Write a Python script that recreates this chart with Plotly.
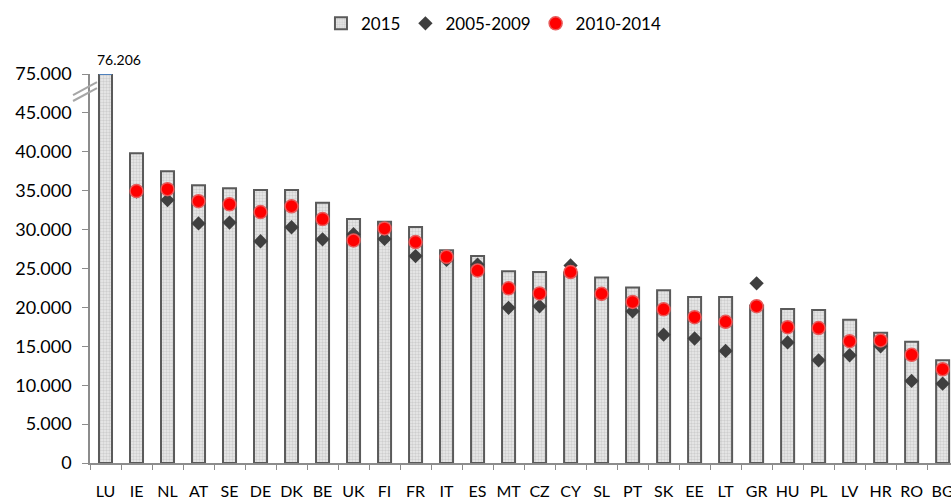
import plotly.graph_objects as go

countries = ["LU", "IE", "NL", "AT", "SE", "DE", "DK", "BE", "UK", "FI", "FR", "IT", "ES", "MT",
             "CZ", "CY", "SL", "PT", "SK", "EE", "LT", "GR", "HU", "PL", "LV", "HR", "RO", "BG"]
v2015 = [76206, 39800, 37500, 35700, 35300, 35100, 35100, 33450, 31350, 31000, 30350, 27350, 26600, 24650,
         24550, 24500, 23850, 22550, 22200, 21350, 21350, 20250, 19800, 19650, 18400, 16750, 15600, 13200]
v2005_2009 = [None, 34900, 33800, 30800, 30900, 28500, 30300, 28750, 29400, 28800, 26600, 26100, 25500, 19950,
              20150, 25400, 21700, 19500, 16500, 16000, 14400, 23100, 15500, 13200, 13850, 15000, 10550, 10200]
v2010_2014 = [None, 34950, 35200, 33650, 33250, 32250, 33000, 31350, 28600, 30150, 28400, 26500, 24750, 22450,
              21800, 24550, 21750, 20700, 19750, 18750, 18150, 20150, 17450, 17350, 15650, 15750, 13900, 12050]
ytick_values = [0, 5000, 10000, 15000, 20000, 25000, 30000, 35000, 40000, 45000, 75000]

BREAK_LOW, BREAK_HIGH = 45000, 70000


def disp(v):
    if v is None:
        return None
    return v if v <= BREAK_LOW else BREAK_LOW + (v - BREAK_HIGH)


def fmt(v):
    return f"{v:,}".replace(",", ".")


FONT = "Lato, Carlito, Calibri, sans-serif"

fig = go.Figure()
fig.add_trace(go.Bar(
    x=countries, y=[disp(v) for v in v2015], name="2015",
    width=0.42,
    marker=dict(color="#e4e4e4",
                line=dict(color="#5a5a5a", width=2),
                pattern=dict(shape=".", fgcolor="#b0b0b0", bgcolor="#ececec", size=3, solidity=0.5)),
    customdata=v2015, hovertemplate="%{x}: %{customdata}<extra>2015</extra>",
))
fig.add_trace(go.Scatter(
    x=countries, y=[disp(v) for v in v2005_2009], name="2005-2009", mode="markers",
    marker=dict(symbol="diamond", size=11, color="#3f3f3f", line=dict(width=0)),
))
fig.add_trace(go.Scatter(
    x=countries, y=[disp(v) for v in v2010_2014], name="2010-2014", mode="markers",
    marker=dict(symbol="circle", size=13, color="#ff0000", line=dict(color="#e85a5a", width=1.5)),
))

ymax = disp(75000)
fig.add_annotation(x=countries[0], y=ymax, text=fmt(v2015[0]), showarrow=False,
                   yanchor="bottom", xshift=13, yshift=4,
                   font=dict(family=FONT, size=14, color="#000"))
# blue edge at clipped top of LU bar
fig.add_shape(type="line", xref="x", yref="y", x0=-0.2, x1=0.2, y0=ymax, y1=ymax,
              line=dict(color="#4f81bd", width=2))

# axis break marks
for y0, y1 in [(0.9306, 0.9640), (0.9460, 0.9794)]:
    fig.add_shape(type="line", xref="paper", yref="paper", x0=-0.0197, x1=0.0081, y0=y0, y1=y1,
                  line=dict(color="#a6a6a6", width=2), layer="above")

fig.update_layout(
    width=951, height=500,
    margin=dict(l=90, r=0, t=74, b=37, autoexpand=False),
    plot_bgcolor="white", paper_bgcolor="white",
    font=dict(family=FONT, size=16, color="#000"),
    bargap=0.5,
    showlegend=True,
    legend=dict(orientation="h", x=0.4686, xanchor="center", y=1.129, yanchor="middle",
                font=dict(family=FONT, size=17), itemwidth=30, traceorder="normal",
                bgcolor="rgba(0,0,0,0)"),
    xaxis=dict(range=[-0.5, 27.27], showgrid=False, showline=True, linecolor="#8c8c8c", linewidth=1.5,
               ticks="outside", tickson="boundaries", ticklen=5, tickcolor="#8c8c8c",
               tickangle=0, automargin=False,
               tickfont=dict(family=FONT, size=16), ticklabelstandoff=13),
    yaxis=dict(range=[0, ymax], showgrid=False, showline=True, linecolor="#8c8c8c", linewidth=1.5,
               ticks="outside", ticklen=6, tickcolor="#8c8c8c", zeroline=False, automargin=False,
               tickvals=[disp(v) for v in ytick_values], ticktext=[fmt(v) for v in ytick_values],
               tickfont=dict(family=FONT, size=18), ticklabelstandoff=7),
)

fig.write_html("out.html", config={"displayModeBar": False},
               post_script="document.body.style.margin='0';document.body.style.overflow='hidden';")
